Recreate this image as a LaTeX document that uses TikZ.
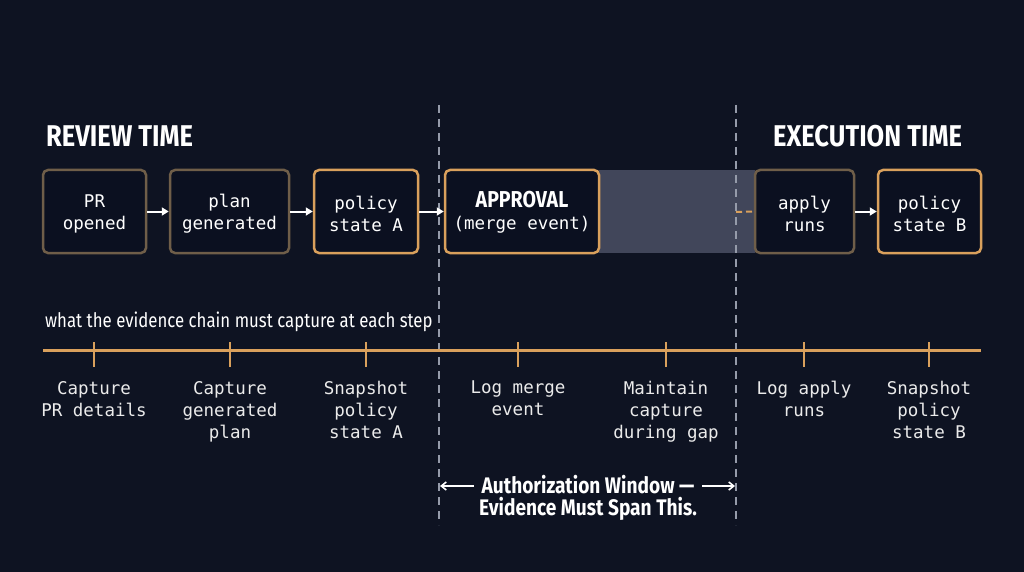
\documentclass[tikz,border=0pt]{standalone}
\usepackage{fontspec}
\setmonofont{DejaVu Sans Mono}
\newfontfamily\headfont{Fira Sans}[FakeStretch=0.85]
\newfontfamily\capfont{Fira Sans}[FakeStretch=0.84]
\usetikzlibrary{arrows.meta}
\definecolor{bg}{HTML}{0E1322}
\definecolor{boxbg}{HTML}{0B1020}
\definecolor{orng}{HTML}{D9A05C}
\definecolor{brn}{HTML}{6F5E49}
\definecolor{dashc}{HTML}{959BAA}
\definecolor{band}{HTML}{41465A}
\tikzset{
  box/.style={draw, line width=2.5pt, rounded corners=5pt, fill=boxbg,
    inner sep=0pt, minimum height=83pt},
  obox/.style={box, draw=orng},
  bbox/.style={box, draw=brn},
  btxt/.style={align=center, text=white, inner sep=0pt,
    font=\ttfamily\fontsize{17.5}{22}\selectfont},
  arr/.style={draw=white, line width=2pt, -{Triangle[length=7pt,width=8pt]}},
  thinarr/.style={draw=white, line width=1.6pt, -{Straight Barb[length=5pt,width=8pt]}},
  vdash/.style={draw=dashc, line width=1.3pt, dash pattern=on 8pt off 6pt},
  tick/.style={draw=orng, line width=2pt},
  lbl/.style={anchor=north, inner sep=0pt, align=center, text=white!92!black,
    font=\ttfamily\fontsize{17.5}{22}\selectfont},
  title/.style={anchor=base west, inner sep=0pt, text=white,
    font=\headfont\bfseries\fontsize{30}{30}\selectfont},
}
\begin{document}
\begin{tikzpicture}[x=1pt,y=-1pt]
\fill[bg] (0,0) rectangle (1024,572);
\useasboundingbox (0,0) rectangle (1024,572);
% shaded gap band
\fill[band] (599,170) rectangle (755,253);
% dashed verticals
\draw[vdash] (439,105) -- (439,525);
\draw[vdash] (736,105) -- (736,525);
% titles
\node[title] (rt) at (46,147) {REVIEW TIME};
\node[title] (et) at (773,147) {EXECUTION TIME};
% boxes
\node[bbox, minimum width=103pt] (pr) at (94.5,211.5) {};
\node[bbox, minimum width=119pt] (plan) at (229.5,211.5) {};
\node[obox, minimum width=104pt] (pa) at (366,211.5) {};
\node[obox, minimum width=154pt] (appr) at (522,211.5) {};
\node[bbox, minimum width=99pt] (apply) at (804.5,211.5) {};
\node[obox, minimum width=103pt] (pb) at (929.5,211.5) {};
\node[btxt] (prt) at ([yshift=-2.5pt]pr.center) {PR\\opened};
\node[btxt] (plant) at ([yshift=-2.5pt]plan.center) {plan\\generated};
\node[btxt] (pat) at ([yshift=-2.5pt]pa.center) {policy\\state A};
\node[btxt] (apprt) at ([yshift=-1pt]appr.center) {{\headfont\bfseries\fontsize{23}{22}\selectfont APPROVAL}\\(merge event)};
\node[btxt] (applyt) at ([yshift=-2.5pt]apply.center) {apply\\runs};
\node[btxt] (pbt) at ([yshift=-2.5pt]pb.center) {policy\\state B};
% arrows
\draw[arr] (pr.east) -- (plan.west);
\draw[arr] (plan.east) -- (pa.west);
\draw[arr] (pa.east) -- (appr.west);
\draw[arr] (apply.east) -- (pb.west);
\coordinate (gapr) at (736,212);
\draw[draw=orng, line width=2pt, dash pattern=on 6pt off 4pt] (gapr) -- (apply.west);
% evidence chain caption
\node[anchor=base west, inner sep=0pt, text=white, font=\capfont\fontsize{20}{20}\selectfont] (cap) at (45,327) {what the evidence chain must capture at each step};
% timeline
\coordinate (tl) at (43,350);
\coordinate (tr) at (981,350);
\draw[draw=orng, line width=3pt] (tl) -- (tr);
\foreach \x in {94,230,366,518,666,804,929}{
  \draw[tick] (\x,342) -- (\x,367);
}
\node[lbl] (l1) at (94,381) {Capture\\PR details};
\node[lbl] (l2) at (230,381) {Capture\\generated\\plan};
\node[lbl] (l3) at (366,381) {Snapshot\\policy\\state A};
\node[lbl] (l4) at (518,381) {Log merge\\event};
\node[lbl] (l5) at (666,381) {Maintain\\capture\\during gap};
\node[lbl] (l6) at (804,381) {Log apply\\runs};
\node[lbl] (l7) at (929,381) {Snapshot\\policy\\state B};
% authorization window
\node[anchor=north, inner sep=0pt, align=center, text=white, font=\headfont\bfseries\fontsize{22.5}{22}\selectfont] (aw) at (588,475.5) {Authorization Window —\\Evidence Must Span This.};
\coordinate (wla) at (474,486);
\coordinate (wra) at (702,486);
\coordinate (wl) at (440,486);
\coordinate (wr) at (735,486);
\draw[thinarr] (wla) -- (wl);
\draw[thinarr] (wra) -- (wr);
\end{tikzpicture}
\end{document}
